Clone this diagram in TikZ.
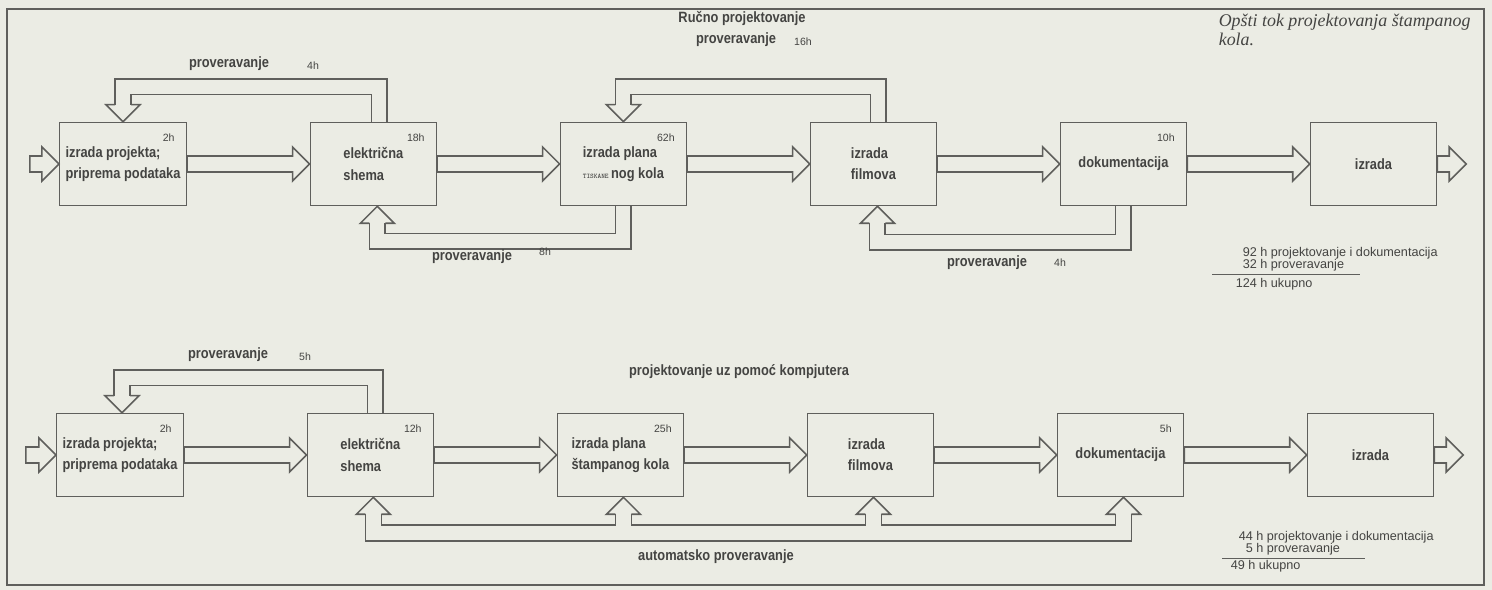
\documentclass[tikz,border=0pt]{standalone}
\usepackage{fontspec}
\setmainfont{Liberation Sans}
\newfontfamily\boxfont[FakeStretch=0.86]{Liberation Sans}
\newfontfamily\titlefont{Liberation Serif}
\usetikzlibrary{%
  calc,%
  positioning% wg. " of "
}
\definecolor{paper}{RGB}{235,236,228}
\definecolor{ink}{RGB}{95,95,92}
\definecolor{type}{RGB}{68,68,66}

\begin{document}
\begin{tikzpicture}[
    x=0.02cm,y=0.02cm,
    line width=0.9pt,line join=miter,
    box/.style={rectangle,draw=ink,minimum width=2.52cm,minimum height=1.66cm,
        align=left,text=type,font=\boxfont\bfseries\fontsize{8.5}{12}\selectfont},
    hr/.style={text=type,inner sep=1pt,font=\fontsize{6}{6}\selectfont},
    hrs/.style={hr,anchor=north east,xshift=-0.2cm,yshift=-0.2cm},
    lbl/.style={text=type,inner sep=1pt,font=\boxfont\bfseries\fontsize{8.5}{10}\selectfont},
    sum/.style={anchor=west,text=type,inner sep=0pt,font=\fontsize{7.2}{8}\selectfont},
    fat/.style={draw=ink,to path={($(\tikztostart)+(0,8)$) -- ($(\tikztotarget)+(-17,8)$)
        -- ++(0,9) -- (\tikztotarget) -- ($(\tikztotarget)+(-17,-17)$) -- ++(0,9)
        -- ($(\tikztostart)+(0,-8)$) -- cycle}},
    back/.style={draw=ink,double=paper,double distance=0.28cm},
    hdn/.pic={\draw[ink] (-8,0) -- (-17,0) -- (0,-17) -- (17,0) -- (8,0);},
    hup/.pic={\draw[ink] (-8,0) -- (-17,0) -- (0,17) -- (17,0) -- (8,0);},
    node distance=2.45cm
  ]

    \fill[paper] (0,0) rectangle (1492,590);
    \useasboundingbox (0,0) rectangle (1492,590);
    \draw[ink,line width=0.8pt] (7,5) rectangle (1484,581);

    % rucno projektovanje
    \node[box,label={[hrs]north east:2h}] (a1) at (123,426) {izrada projekta;\\priprema podataka};
    \node[box,label={[hrs]north east:18h},right=of a1] (a2) {električna\\shema};
    \node[box,label={[hrs]north east:62h},right=of a2] (a3)
        {izrada plana\\{\ttfamily\fontsize{4}{5}\selectfont TISKANE}\,nog kola};
    \node[box,right=of a3] (a4) {izrada\\filmova};
    \node[box,label={[hrs]north east:10h},right=of a4] (a5) {dokumentacija};
    \node[box,right=of a5] (a6) {izrada};

    % uz pomoc kompjutera
    \node[box,label={[hrs]north east:2h}] (b1) at (120,135) {izrada projekta;\\priprema podataka};
    \node[box,label={[hrs]north east:12h},right=of b1] (b2) {električna\\shema};
    \node[box,label={[hrs]north east:25h},right=of b2] (b3) {izrada plana\\štampanog kola};
    \node[box,right=of b3] (b4) {izrada\\filmova};
    \node[box,label={[hrs]north east:5h},right=of b4] (b5) {dokumentacija};
    \node[box,right=of b5] (b6) {izrada};

    \coordinate (in1) at ($(a1.west)+(-29,0)$);
    \coordinate (out1) at ($(a6.east)+(29,0)$);
    \coordinate (in2) at ($(b1.west)+(-30,0)$);
    \coordinate (out2) at ($(b6.east)+(29,0)$);

    \draw[fat] (in1) to (a1.west);
    \draw[fat] (in2) to (b1.west);
    \foreach \i/\j in {1/2,2/3,3/4,4/5,5/6}{
        \draw[fat] (a\i.east) to (a\j.west);
        \draw[fat] (b\i.east) to (b\j.west);
    }
    \draw[fat] (a6.east) to (out1);
    \draw[fat] (b6.east) to (out2);

    % povratne veze
    \draw[back] ($(a2.north)+(6,0)$) -- ++(0,35) -| ($(a1.north)+(0,17)$);
    \pic at ($(a1.north)+(0,17)$) {hdn};
    \draw[back] ($(a4.north)+(5,0)$) -- ++(0,35) -| ($(a3.north)+(0,17)$);
    \pic at ($(a3.north)+(0,17)$) {hdn};
    \draw[back] (a3.south) -- ++(0,-35) -| ($(a2.south)+(4,-17)$);
    \pic at ($(a2.south)+(4,-17)$) {hup};
    \draw[back] (a5.south) -- ++(0,-36) -| ($(a4.south)+(4,-17)$);
    \pic at ($(a4.south)+(4,-17)$) {hup};

    \draw[back] ($(b2.north)+(5,0)$) -- ++(0,35) -| ($(b1.north)+(2,17)$);
    \pic at ($(b1.north)+(2,17)$) {hdn};
    \foreach \n in {2,...,5}
        \pic at ($(b\n.south)+(3,-17)$) {hup};
    \draw[ink] ($(b2.south)+(-5,-17)$) |- ($(b5.south)+(11,-44)$) -- ++(0,27);
    \draw[ink] ($(b2.south)+(11,-17)$) |- ($(b3.south)+(-5,-28)$) -- ++(0,11);
    \draw[ink] ($(b3.south)+(11,-17)$) |- ($(b4.south)+(-5,-28)$) -- ++(0,11);
    \draw[ink] ($(b4.south)+(11,-17)$) |- ($(b5.south)+(-5,-28)$) -- ++(0,11);

    % natpisi
    \node[lbl] (chk1) at (229,526) {proveravanje};
    \node[hr] (h1) at (313,524) {4h};
    \node[lbl] (hand) at (742,572) {Ručno projektovanje};
    \node[lbl] (chk2) at (736,550) {proveravanje};
    \node[hr] (h2) at (803,548) {16h};
    \node[lbl] (chk3) at (472,333) {proveravanje};
    \node[hr] (h3) at (545,338) {8h};
    \node[lbl] (chk4) at (987,327) {proveravanje};
    \node[hr] (h4) at (1060,327) {4h};
    \node[lbl] (chk5) at (228,235) {proveravanje};
    \node[hr] (h5) at (305,233) {5h};
    \node[lbl] (cad) at (739,218) {projektovanje uz pomoć kompjutera};
    \node[lbl] (auto) at (716,33) {automatsko proveravanje};

    \node[anchor=north west,align=left,inner sep=0pt,text=type,
        font=\titlefont\itshape\fontsize{10.2}{10.8}\selectfont] (title) at (1218,577)
        {Opšti tok projektovanja štampanog\\kola.};

    \node[sum] (t1) at (1242,337) {92 h projektovanje i dokumentacija};
    \node[sum] (t2) at (1242,325) {32 h proveravanje};
    \node[sum] (t3) at (1235,306) {124 h ukupno};
    \draw[ink,line width=0.7pt] ($(t2.south west)+(-30,-3)$) -- ++(148,0);

    \node[sum] (u1) at (1238,53) {44 h projektovanje i dokumentacija};
    \node[sum] (u2) at (1245,41) {5 h proveravanje};
    \node[sum] (u3) at (1230,24) {49 h ukupno};
    \draw[ink,line width=0.7pt] ($(u2.south west)+(-23,-3)$) -- ++(143,0);
\end{tikzpicture}
\end{document}
